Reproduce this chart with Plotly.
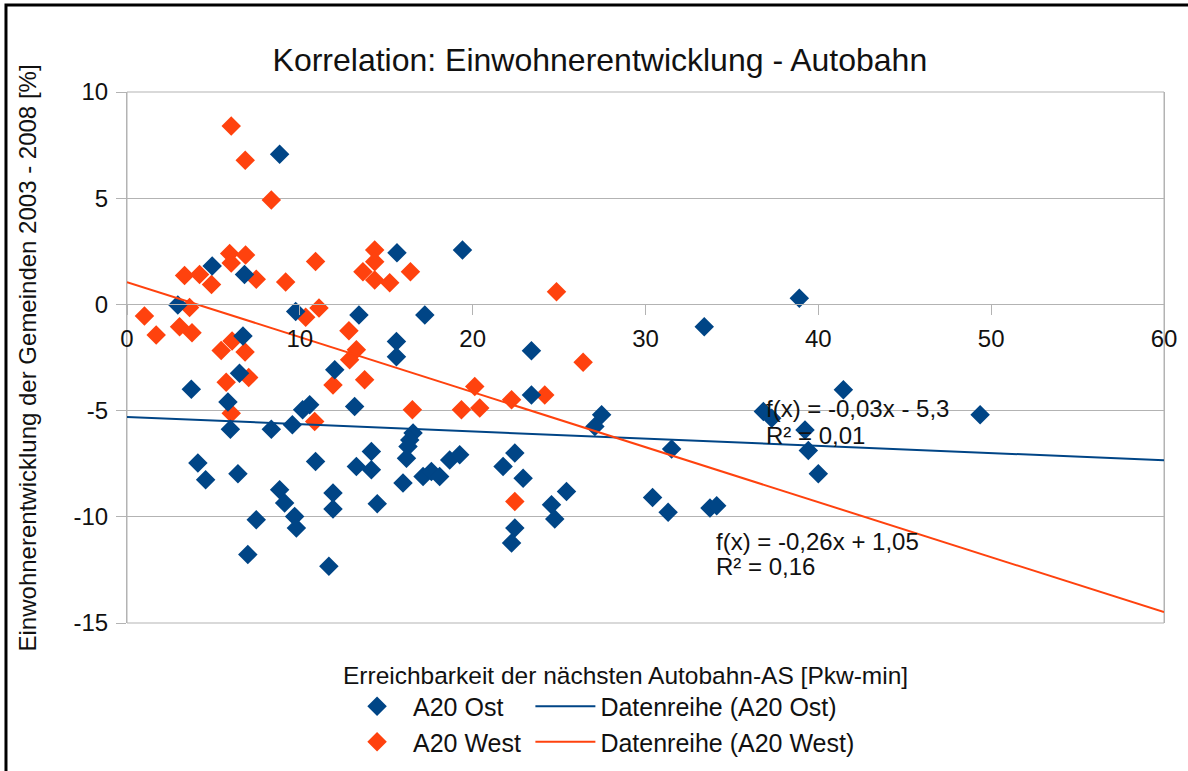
import plotly.graph_objects as go

# ---------------- data ----------------
ost_x = [8.83, 4.93, 6.80, 2.94, 9.76, 13.42, 6.71, 6.51, 3.72, 5.84,
         5.98, 8.35, 9.57, 10.57, 10.16, 4.10, 4.55, 6.42, 8.83, 9.12,
         9.70, 9.80, 7.48, 6.99, 11.68, 10.91, 11.92, 11.92, 12.02, 13.17,
         13.27, 14.14, 14.14, 14.48, 15.62, 19.41, 17.23, 15.59, 15.59, 23.40,
         23.40, 27.46, 27.07, 16.55, 16.36, 16.26, 16.17, 15.97, 17.13, 17.61,
         18.09, 18.67, 19.25, 22.44, 21.76, 22.92, 22.44, 22.25, 24.56, 24.75,
         25.43, 38.90, 33.40, 41.45, 36.82, 37.30, 39.23, 49.36, 31.51, 39.42,
         40.00, 30.41, 31.31, 33.73, 34.12]
ost_y = [7.07, 1.81, 1.41, -0.03, -0.34, -0.50, -1.49, -3.24, -3.99, -4.59,
         -5.88, -5.88, -5.67, -4.73, -4.96, -7.47, -8.26, -7.97, -8.73, -9.35,
         -9.98, -10.53, -10.14, -11.78, -12.33, -7.40, -8.88, -9.63, -3.08, -4.81,
         -7.63, -6.93, -7.79, -9.38, 2.43, 2.56, -0.50, -1.75, -2.46, -2.18,
         -4.26, -5.20, -5.75, -6.06, -6.38, -6.69, -7.24, -8.41, -8.10, -7.87,
         -8.10, -7.32, -7.08, -7.00, -7.63, -8.18, -10.53, -11.23, -9.43, -10.10,
         -8.81, 0.29, -1.05, -4.02, -5.04, -5.36, -5.91, -5.20, -6.81, -6.88,
         -7.97, -9.09, -9.79, -9.59, -9.48]

west_x = [6.03, 6.84, 8.35, 5.94, 6.86, 6.03, 7.48, 3.33, 4.20, 4.89,
          10.91, 9.18, 13.65, 14.33, 14.33, 14.33, 15.20, 16.40, 24.85, 3.62,
          1.01, 1.69, 3.04, 3.76, 10.34, 11.11, 12.84, 5.45, 6.08, 6.83,
          5.74, 7.04, 6.03, 10.86, 11.92, 13.27, 12.88, 13.75, 20.12, 24.17,
          22.25, 26.39, 16.51, 19.35, 20.41, 22.44]
west_y = [8.40, 6.79, 4.91, 2.40, 2.32, 1.95, 1.18, 1.36, 1.41, 0.94,
          2.02, 1.05, 1.54, 2.56, 2.01, 1.15, 1.02, 1.54, 0.60, -0.15,
          -0.55, -1.44, -1.05, -1.34, -0.61, -0.17, -1.24, -2.17, -1.72, -2.24,
          -3.67, -3.44, -5.12, -5.51, -3.79, -2.14, -2.61, -3.55, -3.87, -4.26,
          -4.49, -2.72, -4.96, -4.96, -4.88, -9.28]

series_names = ["A20 Ost", "A20 West"]
trend_names = ["Datenreihe (A20 Ost)", "Datenreihe (A20 West)"]
trend_slope = [-0.034, -0.259]
trend_intercept = [-5.3, 1.05]
trend_labels = [["f(x) = -0,03x - 5,3", "R² = 0,01"],
                ["f(x) = -0,26x + 1,05", "R² = 0,16"]]

x_range = [0, 60]
y_range = [-15, 10]
x_ticks = [0, 10, 20, 30, 40, 50, 60]
x_tick_labels = ["0", "10", "20", "30", "40", "50", "60"]
y_ticks = [-15, -10, -5, 0, 5, 10]
y_tick_labels = ["-15", "-10", "-5", "0", "5", "10"]

title_text = "Korrelation: Einwohnerentwicklung - Autobahn"
x_title = "Erreichbarkeit der nächsten Autobahn-AS [Pkw-min]"
y_title = "Einwohnerentwicklung der Gemeinden 2003 - 2008 [%]"

# ---------------- style ----------------
BLUE = "#004586"
ORANGE = "#ff420e"
GRID = "#b3b3b3"
FONT = "Liberation Sans, Arial, sans-serif"
TXT = "#111111"

fig = go.Figure()

# West first so Ost diamonds sit on top
fig.add_trace(go.Scatter(
    x=west_x, y=west_y, mode="markers", name=series_names[1],
    marker=dict(symbol="diamond", size=15, color=ORANGE, line=dict(width=0)),
    legend="legend", legendrank=2, legendgroup="w"))
fig.add_trace(go.Scatter(
    x=ost_x, y=ost_y, mode="markers", name=series_names[0],
    marker=dict(symbol="diamond", size=15, color=BLUE, line=dict(width=0)),
    legend="legend", legendrank=1, legendgroup="o"))

for i, col in enumerate([BLUE, ORANGE]):
    xs = list(x_range)
    ys = [trend_slope[i] * v + trend_intercept[i] for v in xs]
    fig.add_trace(go.Scatter(
        x=xs, y=ys, mode="lines", name=trend_names[i],
        line=dict(color=col, width=2), legend="legend2", legendrank=i + 1,
        legendgroup="t%d" % i))

fig.update_layout(
    width=1188, height=771,
    margin=dict(l=127, r=24, t=92, b=148, autoexpand=False),
    paper_bgcolor="white", plot_bgcolor="white",
    font=dict(family=FONT, size=24, color=TXT),
    title=dict(text=title_text, x=0.456, xref="paper", xanchor="center",
               y=0.923, yref="container", yanchor="middle",
               font=dict(family=FONT, size=32, color=TXT)),
    xaxis=dict(range=x_range, tickvals=x_ticks, ticktext=x_tick_labels,
               anchor="free", position=0.6, showgrid=False, zeroline=False,
               showline=True, linecolor=GRID, linewidth=1,
               ticks="outside", ticklen=10, tickcolor=GRID,
               ticklabelstandoff=3,
               tickfont=dict(family=FONT, size=24, color=TXT)),
    yaxis=dict(range=y_range, tickvals=y_ticks, ticktext=y_tick_labels,
               domain=[0, 1], showgrid=True, gridcolor=GRID, gridwidth=1,
               zeroline=False, showline=True, linecolor=GRID, mirror=True,
               ticks="outside", ticklen=10, tickcolor=GRID,
               ticklabelstandoff=3,
               tickfont=dict(family=FONT, size=24, color=TXT)),
    legend=dict(x=0.2064, y=-0.114, xanchor="left", yanchor="top",
                orientation="v", bgcolor="rgba(0,0,0,0)", itemwidth=62,
                traceorder="grouped", tracegroupgap=0,
                font=dict(family=FONT, size=25, color=TXT)),
    legend2=dict(x=0.389, y=-0.114, xanchor="left", yanchor="top",
                 orientation="v", bgcolor="rgba(0,0,0,0)", itemwidth=60,
                 traceorder="grouped", tracegroupgap=0,
                 font=dict(family=FONT, size=25, color=TXT)),
    showlegend=True,
)

# plot frame
fig.add_shape(type="rect", xref="x domain", yref="y domain",
              x0=0, x1=1, y0=0, y1=1, line=dict(color=GRID, width=1),
              layer="below")
# outer black border (left/top visible)
fig.add_shape(type="rect", xref="paper", yref="paper",
              x0=-0.1167, x1=1.2, y0=-0.6, y1=1.1638,
              line=dict(color="black", width=3))

# axis titles
fig.add_annotation(text=x_title, xref="paper", yref="paper", x=0.4807,
                   y=-0.0998, xanchor="center", yanchor="middle",
                   showarrow=False, font=dict(family=FONT, size=24.5, color=TXT))
fig.add_annotation(text=y_title, xref="paper", yref="paper", x=-0.0955,
                   y=0.5, xanchor="center", yanchor="middle", textangle=-90,
                   showarrow=False, font=dict(family=FONT, size=24, color=TXT))

# regression labels
label_pos = [[(0.614, 0.404), (0.614, 0.354)],
             [(0.566, 0.154), (0.566, 0.107)]]
for i in range(2):
    for j in range(2):
        px, py = label_pos[i][j]
        fig.add_annotation(text=trend_labels[i][j], xref="paper", yref="paper",
                           x=px, y=py, xanchor="left", yanchor="middle",
                           showarrow=False,
                           font=dict(family=FONT, size=24, color=TXT))

fig.write_html("out.html", config={"displayModeBar": False},
               post_script="document.body.style.margin='0';")
